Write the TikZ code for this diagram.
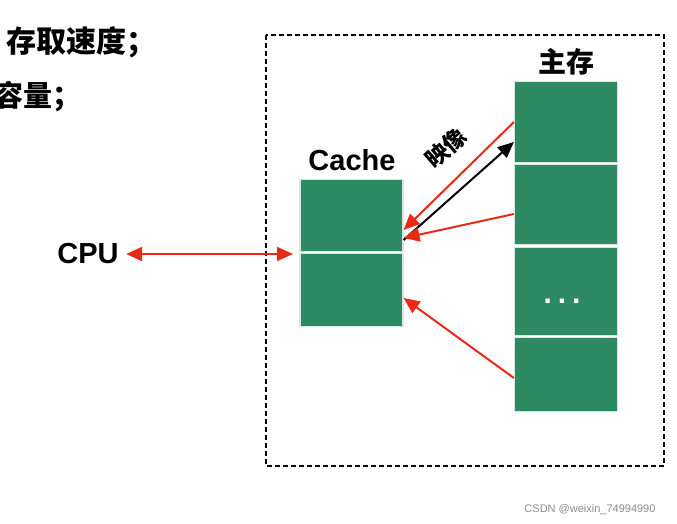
\documentclass[tikz,border=0pt]{standalone}
\usepackage{fontspec}
\setmainfont{Liberation Sans}
\newfontfamily\cjk{Noto Sans CJK SC}
\usetikzlibrary{arrows.meta}
\definecolor{blockgreen}{RGB}{46,138,99}
\definecolor{arrowred}{RGB}{232,42,22}

\begin{document}
\begin{tikzpicture}[x=1pt,y=-1pt,
  block/.style={draw=white!80!blockgreen,fill=blockgreen,line width=1.2pt,minimum width=103pt,inner sep=0pt},
  head/.style={-{Triangle[length=16pt,width=14pt]}},
  redline/.style={draw=arrowred,line width=2pt,head},
  title/.style={font=\bfseries\fontsize{29}{34}\selectfont}]
  \useasboundingbox (0,0) rectangle (677,523);
  \node (t1) at (3,42) [anchor=west,font=\cjk\bfseries\fontsize{30}{34}\selectfont] {存取速度；};
  \node (t2) at (-9,97) [anchor=west,font=\cjk\bfseries\fontsize{29}{34}\selectfont] {容量；};
  \draw[line width=1.8pt,dash pattern=on 5pt off 3pt] (266,35) rectangle (664,466);
  \node (cpu) at (88,254) [title] {CPU};
  \node (cache1) at (351.5,215.5) [block,minimum height=72pt] {};
  \node (cache2) at (351.5,290) [block,minimum height=73pt] {};
  \node (cachelabel) at (352,160) [title] {Cache};
  \node (mem1) at (566,122) [block,minimum height=81pt] {};
  \node (mem2) at (566,204.5) [block,minimum height=80pt] {};
  \node (mem3) at (566,291.5) [block,minimum height=88pt] {};
  \node (dots) at (562,301) [text=white,font=\bfseries\fontsize{30}{30}\selectfont] {.\hspace{6pt}.\hspace{6pt}.};
  \node (mem4) at (566,374.5) [block,minimum height=74pt] {};
  \node (memlabel) at (566,62) [font=\cjk\bfseries\fontsize{28}{32}\selectfont] {主存};
  \coordinate (cpuend) at (293,254);
  \draw[redline,{Triangle[length=16pt,width=14pt]}-{Triangle[length=16pt,width=14pt]},shorten <=4pt] (cpu.east) -- (cpuend);
  \draw[redline] (mem1.west) -- ([yshift=-14.5pt]cache1.east);
  \draw[line width=2pt,head] ([yshift=-24.5pt]cache1.east) -- ([yshift=-20pt]mem1.west);
  \draw[redline] ([yshift=-9.5pt]mem2.west) -- ([yshift=-22.5pt]cache1.east);
  \draw[redline] ([yshift=-3.5pt]mem4.west) -- ([yshift=-8pt]cache2.east);
  \node (maplabel) at (446,148) [rotate=41,font=\cjk\bfseries\fontsize{23}{26}\selectfont] {映像};
  \node (mark) at (590,510) [text=black!45,font=\fontsize{11}{12}\selectfont] {CSDN @weixin\_74994990};
\end{tikzpicture}
\end{document}
